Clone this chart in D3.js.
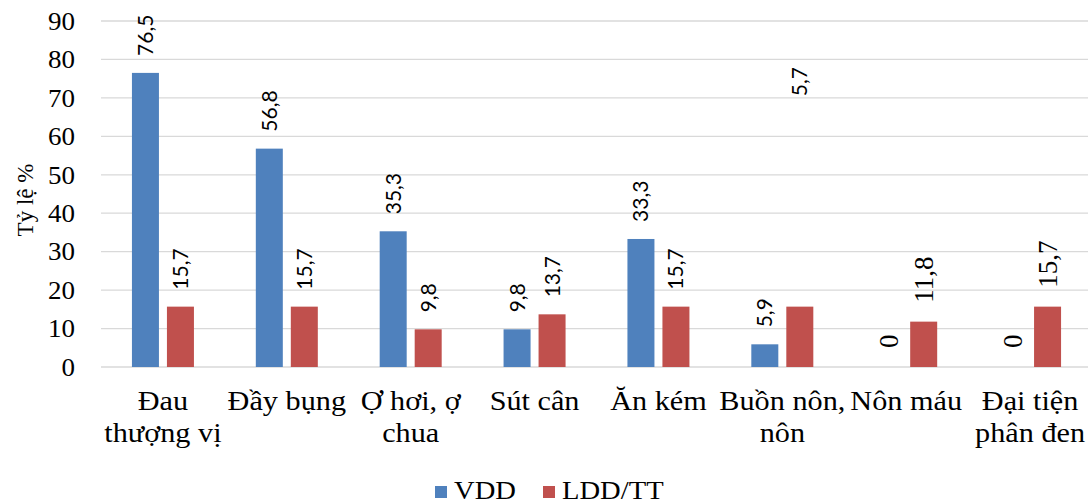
<!DOCTYPE html>
<html>
<head>
<meta charset="utf-8">
<script src="https://cdn.jsdelivr.net/npm/d3@7"></script>
<style>
  body { margin: 0; background: #fff; }
  svg { display: block; }
  .grid line { stroke: #d9d9d9; stroke-width: 1.3; }
</style>
</head>
<body>
<div id="chart"></div>
<script>
const categories = [["Đau", "thượng vị"], ["Đầy bụng"], ["Ợ hơi, ợ", "chua"], ["Sút cân"], ["Ăn kém"], ["Buồn nôn,", "nôn"], ["Nôn máu"], ["Đại tiện", "phân đen"]];
const vdd = [76.5, 56.8, 35.3, 9.8, 33.3, 5.9, 0, 0];
const ldd = [15.7, 15.7, 9.8, 13.7, 15.7, 15.7, 11.8, 15.7];
const vddLabels = ["76,5", "56,8", "35,3", "9,8", "33,3", "5,9", "0", "0"];
const lddLabels = ["15,7", "15,7", "9,8", "13,7", "15,7", "5,7", "11,8", "15,7"];
// the one misplaced label in the source sits high above its bar
const lddLabelAt = [null, null, null, null, null, 66, null, null];
const yTicks = [0, 10, 20, 30, 40, 50, 60, 70, 80, 90];
const seriesNames = ["VDD", "LDD/TT"];
const colors = ["#4F81BD", "#C0504D"];

const SERIF = "'Liberation Serif', 'Times New Roman', serif";
const SANS = "Lato, 'Open Sans', sans-serif";

const W = 1088, H = 504;
const svg = d3.select("#chart").append("svg").attr("width", W).attr("height", H);

const x = d3.scaleBand().domain(d3.range(categories.length)).range([101, 1092]);
const y = d3.scaleLinear().domain([0, 90]).range([367, 21]);
const bw = 27, gap = 8;

// gridlines
svg.append("g").attr("class", "grid")
  .selectAll("line").data(yTicks).enter().append("line")
  .attr("x1", 101).attr("x2", W)
  .attr("y1", d => y(d)).attr("y2", d => y(d));

// y tick labels (source text is a bit wider than plain Times)
svg.append("g").selectAll("text").data(yTicks).enter().append("text")
  .attr("transform", d => "translate(75," + y(d) + ") scale(1.08,1)")
  .attr("dy", "0.35em")
  .attr("text-anchor", "end")
  .attr("font-family", SERIF).attr("font-size", 25)
  .text(d => d);

svg.append("text")
  .attr("transform", "translate(33,200) rotate(-90)")
  .attr("text-anchor", "middle")
  .attr("font-family", SERIF).attr("font-size", 23)
  .text("Tỷ lệ %");

const series = [vdd, ldd];
const labels = [vddLabels, lddLabels];
series.forEach((vals, s) => {
  const off = s === 0 ? -(bw + gap / 2) : gap / 2;
  const cx = i => x(i) + x.bandwidth() / 2 + off;
  svg.append("g").selectAll("rect").data(vals).enter().append("rect")
    .attr("x", (d, i) => cx(i))
    .attr("y", d => y(d))
    .attr("width", bw)
    .attr("height", d => y(0) - y(d))
    .attr("fill", colors[s]);

  svg.append("g").selectAll("text").data(vals).enter().append("text")
    .attr("transform", (d, i) => {
      const v = s === 1 && lddLabelAt[i] != null ? lddLabelAt[i] : d;
      const serif = i >= 6;
      return "translate(" + (cx(i) + bw / 2 + (serif ? 9 : 7.5)) + "," + (y(v) - (serif ? 19 : 17)) + ") rotate(-90)";
    })
    .attr("text-anchor", "start")
    .attr("font-family", (d, i) => i >= 6 ? SERIF : SANS)
    .attr("font-size", (d, i) => i >= 6 ? 27 : 21)
    .text((d, i) => labels[s][i]);
});

// category labels
categories.forEach((lines, i) => {
  const cxm = x(i) + x.bandwidth() / 2;
  const t = svg.append("text")
    .attr("transform", "translate(" + cxm + ",0) scale(1.12,1)")
    .attr("text-anchor", "middle")
    .attr("font-family", SERIF).attr("font-size", 27);
  lines.forEach((ln, k) => {
    t.append("tspan").attr("x", 0).attr("y", 410 + k * 32).text(ln);
  });
});

// legend
const lg = svg.append("g");
const lx = [435, 543];
seriesNames.forEach((n, s) => {
  lg.append("rect").attr("x", lx[s]).attr("y", 486).attr("width", 12).attr("height", 12).attr("fill", colors[s]);
  lg.append("text")
    .attr("transform", "translate(" + (lx[s] + 19) + ",499) scale(1.1,1)")
    .attr("font-family", SERIF).attr("font-size", 26).text(n);
});
</script>
</body>
</html>
